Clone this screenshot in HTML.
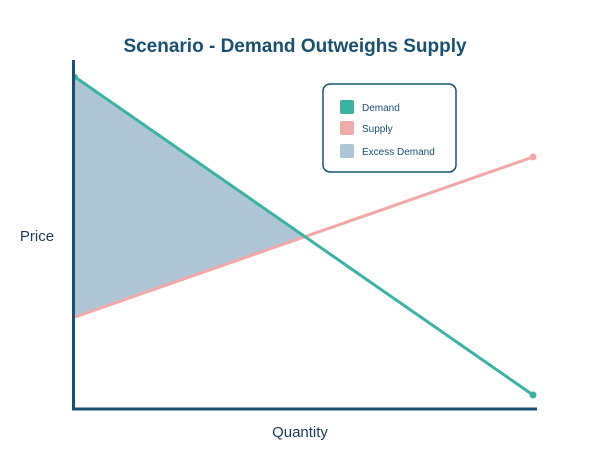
<!DOCTYPE html><html><head><style>body{margin:0;background:#fff}</style></head><body>
<svg width="600" height="450" xmlns="http://www.w3.org/2000/svg" font-family="Liberation Sans, sans-serif">
<rect width="600" height="450" fill="#fff"/>
<text x="295" y="52" text-anchor="middle" font-size="19" font-weight="bold" fill="#1b4f72">Scenario - Demand Outweighs Supply</text>
<polygon points="75,77 304,236 75,317" fill="#aec5d6"/>
<line x1="75" y1="317" x2="533" y2="157" stroke="#f1a9a9" stroke-width="3"/>
<circle cx="533" cy="157" r="3.5" fill="#f1a9a9"/>
<line x1="75" y1="77" x2="533" y2="395" stroke="#3bb3a3" stroke-width="3"/>
<circle cx="533" cy="395" r="3.5" fill="#3bb3a3"/>
<circle cx="75" cy="77" r="3" fill="#3bb3a3"/>
<line x1="73.5" y1="60" x2="73.5" y2="410" stroke="#1b4f72" stroke-width="3"/>
<line x1="72" y1="409" x2="537" y2="409" stroke="#1b4f72" stroke-width="3"/>
<text x="37" y="241" text-anchor="middle" font-size="15" fill="#1b3a5a">Price</text>
<text x="300" y="437" text-anchor="middle" font-size="15" fill="#1b3a5a">Quantity</text>
<rect x="323" y="84" width="133" height="88" rx="7" fill="#fff" stroke="#1b4f72" stroke-width="1.5"/>
<rect x="340" y="100" width="14" height="14" rx="2" fill="#3bb3a3"/>
<rect x="340" y="121" width="14" height="14" rx="2" fill="#f1a9a9"/>
<rect x="340" y="144" width="14" height="14" rx="2" fill="#aec5d6"/>
<text x="362" y="111" font-size="10" fill="#1b4f72">Demand</text>
<text x="362" y="132" font-size="10" fill="#1b4f72">Supply</text>
<text x="362" y="155" font-size="10" fill="#1b4f72">Excess Demand</text>
</svg></body></html>
